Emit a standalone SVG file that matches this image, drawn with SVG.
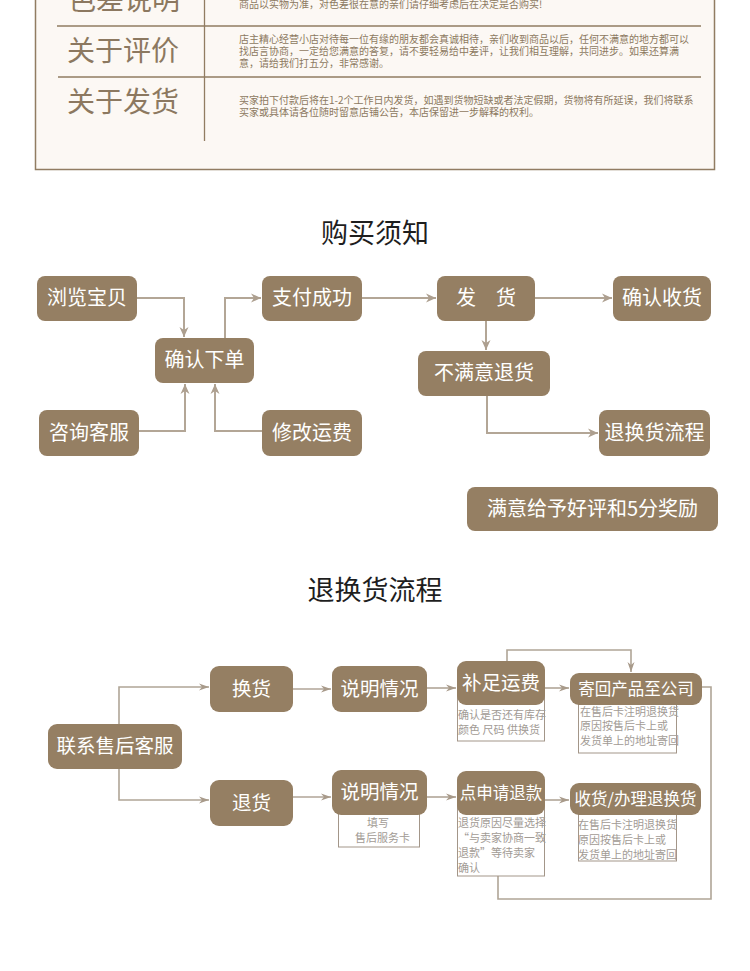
<svg xmlns="http://www.w3.org/2000/svg" width="750" height="971" viewBox="0 0 750 971">
<defs>
<style>
.cjk{font-family:"Noto Sans CJK SC","Noto Sans",sans-serif}
.head{fill:#8c7860;font-size:28px}
.small{fill:#8c7860;font-size:10px}
.title{fill:#1e1e1e;font-size:27px}
.box{fill:#957f63}
.bt{fill:#ffffff;text-anchor:middle}
.c1{fill:none;stroke:#b3a696;stroke-width:2}
.c2{fill:none;stroke:#b0a597;stroke-width:1.6}
.note{fill:#ffffff;stroke:#a39689;stroke-width:1}
.nt{fill:#a29b95;font-size:11px}
</style>
<marker id="a1" markerUnits="userSpaceOnUse" markerWidth="12" markerHeight="12" refX="11" refY="6" orient="auto">
<path d="M1,1.5 L11,6 L1,10.5 L4,6 Z" fill="#ad9f8f"/>
</marker>
<marker id="a2" markerUnits="userSpaceOnUse" markerWidth="12" markerHeight="10" refX="11" refY="5" orient="auto">
<path d="M1,1.5 L11,5 L1,8.5 L4,5 Z" fill="#a89a8a"/>
</marker>
</defs>
<rect width="750" height="971" fill="#ffffff"/>

<!-- top info panel -->
<g id="info-panel" class="cjk">
<rect x="35.5" y="-10" width="679" height="179.5" fill="#fcf8f4" stroke="#917c62" stroke-width="1.5"/>
<line x1="57" y1="26" x2="701" y2="26" stroke="#917c62" stroke-width="1.3"/>
<line x1="58" y1="77" x2="701" y2="77" stroke="#917c62" stroke-width="1.3"/>
<line x1="204.5" y1="-10" x2="204.5" y2="141" stroke="#917c62" stroke-width="1.3"/>
<text class="head" x="68" y="10">色差说明</text>
<text class="head" x="67" y="61">关于评价</text>
<text class="head" x="67" y="112">关于发货</text>
<text class="small" x="239" y="8">商品以实物为准，对色差很在意的亲们请仔细考虑后在决定是否购买!</text>
<text class="small" x="239" y="43">店主精心经营小店对待每一位有缘的朋友都会真诚相待，亲们收到商品以后，任何不满意的地方都可以</text>
<text class="small" x="239" y="55">找店言协商，一定给您满意的答复，请不要轻易给中差评，让我们相互理解，共同进步。如果还算满</text>
<text class="small" x="239" y="67">意，请给我们打五分，非常感谢。</text>
<text class="small" x="239" y="104">买家拍下付款后将在1-2个工作日内发货，如遇到货物短缺或者法定假期，货物将有所延误，我们将联系</text>
<text class="small" x="239" y="116">买家或具体请各位随时留意店铺公告，本店保留进一步解释的权利。</text>
</g>

<text id="title1" class="cjk title" x="375" y="243" text-anchor="middle">购买须知</text>

<!-- flow 1 connectors -->
<g id="connectors1">
<polyline class="c1" points="137,298 184,298 184,337" marker-end="url(#a1)"/>
<polyline class="c1" points="225,338 225,298 261,298" marker-end="url(#a1)"/>
<polyline class="c1" points="362,298 436,298" marker-end="url(#a1)"/>
<polyline class="c1" points="535,298 612,298" marker-end="url(#a1)"/>
<polyline class="c1" points="486,321 486,350" marker-end="url(#a1)"/>
<polyline class="c1" points="139,431 185,431 185,384" marker-end="url(#a1)"/>
<polyline class="c1" points="262,431 215,431 215,384" marker-end="url(#a1)"/>
<polyline class="c1" points="487,396 487,433 598,433" marker-end="url(#a1)"/>
</g>

<g id="n-browse"><rect class="box" x="37" y="276" width="100" height="45" rx="8"/><text class="cjk bt" x="87" y="305" font-size="20">浏览宝贝</text></g>
<g id="n-pay"><rect class="box" x="262" y="276" width="100" height="45" rx="8"/><text class="cjk bt" x="312" y="305" font-size="20">支付成功</text></g>
<g id="n-ship"><rect class="box" x="437" y="276" width="98" height="45" rx="8"/><text class="cjk bt" x="486" y="305" font-size="20">发　货</text></g>
<g id="n-receive"><rect class="box" x="613" y="276" width="98" height="45" rx="8"/><text class="cjk bt" x="662" y="305" font-size="20">确认收货</text></g>
<g id="n-order"><rect class="box" x="155" y="338" width="99" height="45" rx="8"/><text class="cjk bt" x="204.5" y="367" font-size="20">确认下单</text></g>
<g id="n-unsatisfied"><rect class="box" x="418" y="351" width="132" height="45" rx="8"/><text class="cjk bt" x="484" y="380" font-size="20">不满意退货</text></g>
<g id="n-consult"><rect class="box" x="39" y="410" width="100" height="46" rx="8"/><text class="cjk bt" x="89" y="440" font-size="20">咨询客服</text></g>
<g id="n-fee"><rect class="box" x="262" y="410" width="100" height="46" rx="8"/><text class="cjk bt" x="312" y="440" font-size="20">修改运费</text></g>
<g id="n-returnflow"><rect class="box" x="599" y="410" width="111" height="46" rx="8"/><text class="cjk bt" x="654.5" y="440" font-size="20">退换货流程</text></g>
<g id="n-praise"><rect class="box" x="467" y="487" width="251" height="44" rx="8"/><text class="cjk bt" x="592.5" y="516" font-size="20">满意给予好评和5分奖励</text></g>

<text id="title2" class="cjk title" x="375" y="600" text-anchor="middle">退换货流程</text>

<!-- flow 2 connectors -->
<g id="connectors2">
<polyline class="c2" points="119,724 119,687 209,687" marker-end="url(#a2)"/>
<polyline class="c2" points="119,769 119,800 209,800" marker-end="url(#a2)"/>
<polyline class="c2" points="293,689 331,689" marker-end="url(#a2)"/>
<polyline class="c2" points="293,797 331,797" marker-end="url(#a2)"/>
<polyline class="c2" points="427,688 456,688" marker-end="url(#a2)"/>
<polyline class="c2" points="545,688 569,688" marker-end="url(#a2)"/>
<polyline class="c2" points="427,797 456,797" marker-end="url(#a2)"/>
<polyline class="c2" points="545,800 569,800" marker-end="url(#a2)"/>
<polyline class="c2" points="507,661 507,650 631,650 631,672" marker-end="url(#a2)"/>
<polyline class="c2" points="702,687 711,687 711,899 498,899 498,876"/>
</g>

<g id="n-contact"><rect class="box" x="48" y="724" width="134" height="45" rx="9"/><text class="cjk bt" x="115" y="753" font-size="19.5">联系售后客服</text></g>
<g id="n-exchange"><rect class="box" x="210" y="666" width="83" height="46" rx="9"/><text class="cjk bt" x="251.5" y="696" font-size="19.5">换货</text></g>
<g id="n-return"><rect class="box" x="210" y="780" width="83" height="46" rx="9"/><text class="cjk bt" x="251.5" y="810" font-size="19.5">退货</text></g>
<g id="n-explain1"><rect class="box" x="332" y="666" width="95" height="46" rx="9"/><text class="cjk bt" x="379.5" y="696" font-size="19.5">说明情况</text></g>
<g id="n-explain2">
<rect class="note" x="338.5" y="805" width="81" height="42"/>
<rect class="box" x="332" y="770" width="95" height="45" rx="9"/><text class="cjk bt" x="379.5" y="799" font-size="19.5">说明情况</text>
<text class="cjk nt" x="367" y="827" font-size="10.5">填写</text>
<text class="cjk nt" x="355" y="842" font-size="10.5">售后服务卡</text>
</g>
<g id="n-topup">
<rect class="note" x="457.5" y="690" width="87" height="51"/>
<rect class="box" x="457" y="661" width="88" height="44" rx="9"/><text class="cjk bt" x="501" y="690" font-size="19.5">补足运费</text>
<text class="cjk nt" x="458" y="719">确认是否还有库存</text>
<text class="cjk nt" x="458" y="734">颜色 尺码 供换货</text>
</g>
<g id="n-sendback">
<rect class="note" x="578.5" y="695" width="98" height="58"/>
<rect class="box" x="570" y="673" width="132" height="32" rx="9"/><text class="cjk bt" x="636" y="695" font-size="16.5">寄回产品至公司</text>
<text class="cjk nt" x="580" y="716">在售后卡注明退换货</text>
<text class="cjk nt" x="580" y="730">原因按售后卡上或</text>
<text class="cjk nt" x="580" y="745">发货单上的地址寄回</text>
</g>
<g id="n-refund">
<rect class="note" x="457.5" y="800" width="87" height="76"/>
<rect class="box" x="457" y="771" width="88" height="44" rx="9"/><text class="cjk bt" x="501" y="799" font-size="16.5">点申请退款</text>
<text class="cjk nt" x="458" y="827">退货原因尽量选择</text>
<text class="cjk nt" x="458" y="842">“与卖家协商一致</text>
<text class="cjk nt" x="458" y="857">退款”等待卖家</text>
<text class="cjk nt" x="458" y="872">确认</text>
</g>
<g id="n-handle">
<rect class="note" x="578.5" y="805" width="98" height="56"/>
<rect class="box" x="570" y="783" width="131" height="32" rx="9"/><text class="cjk bt" x="635.5" y="805" font-size="16.5">收货/办理退换货</text>
<text class="cjk nt" x="578" y="829">在售后卡注明退换货</text>
<text class="cjk nt" x="578" y="844">原因按售后卡上或</text>
<text class="cjk nt" x="578" y="859">发货单上的地址寄回</text>
</g>
</svg>
